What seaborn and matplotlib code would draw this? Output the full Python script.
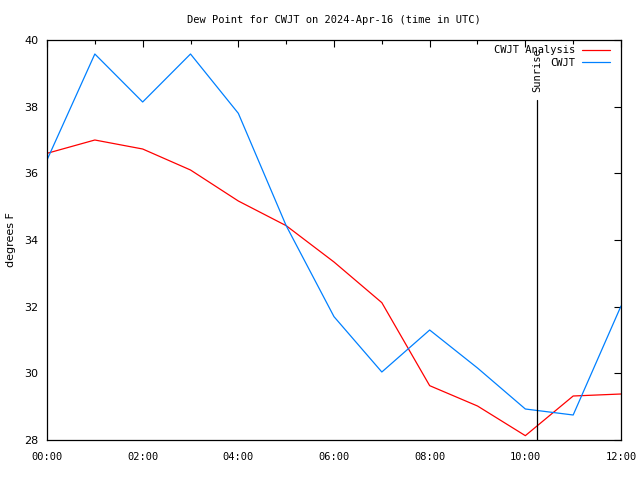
import pandas as pd
import seaborn as sns
import matplotlib.pyplot as plt

hours = [0, 1, 2, 3, 4, 5, 6, 7, 8, 9, 10, 11, 12]
analysis = [36.6, 37.0, 36.73, 36.1, 35.17, 34.43, 33.34, 32.12, 29.63, 29.02, 28.13, 29.32, 29.38]
obs = [36.4, 39.58, 38.14, 39.58, 37.8, 34.43, 31.7, 30.04, 31.3, 30.16, 28.93, 28.75, 32.02]
sunrise = 10.25
xticks = [0, 2, 4, 6, 8, 10, 12]
xlabels = ["00:00", "02:00", "04:00", "06:00", "08:00", "10:00", "12:00"]

df = pd.DataFrame({
    "hour": hours * 2,
    "dewpoint": analysis + obs,
    "series": ["CWJT Analysis"] * len(hours) + ["CWJT"] * len(hours),
})

sns.set_style("white")
plt.rcParams["font.family"] = ["DejaVu Sans Mono"]
plt.rcParams["font.size"] = 7.5
plt.rcParams["text.color"] = "black"
plt.rcParams["axes.labelcolor"] = "black"
plt.rcParams["xtick.color"] = "black"
plt.rcParams["ytick.color"] = "black"

fig = plt.figure(figsize=(6.4, 4.8), dpi=100)
ax = fig.add_axes([47 / 640, 40 / 480, 574 / 640, 400 / 480])

sns.lineplot(data=df, x="hour", y="dewpoint", hue="series",
             palette={"CWJT Analysis": "#ff0000", "CWJT": "#0080ff"},
             linewidth=0.9, ax=ax)

# sunrise marker
ax.plot([sunrise, sunrise], [28, 38.2], color="black", linewidth=0.9)
ax.text(sunrise, 38.45, "Sunrise", rotation=90, ha="center", va="bottom", fontsize=7.5)

ax.set_xlim(0, 12)
ax.set_ylim(28, 40)
ax.set_xticks(xticks)
ax.set_xticklabels(xlabels, fontsize=7.5)
ax.set_xticks(range(0, 13), minor=True)
ax.set_yticks(range(28, 41, 2))
for lab in ax.get_yticklabels():
    lab.set_family("DejaVu Sans")
    lab.set_fontsize(8)
ax.tick_params(which="both", direction="in", top=True, right=True, length=5, width=0.8)
ax.tick_params(which="minor", length=3)
ax.tick_params(axis="x", pad=9)
ax.tick_params(axis="y", pad=6)
for s in ax.spines.values():
    s.set_color("black")
    s.set_linewidth(0.9)

ax.set_xlabel("")
ax.set_ylabel("degrees F", family="DejaVu Sans", fontsize=8, labelpad=6)
ax.set_title("Dew Point for CWJT on 2024-Apr-16 (time in UTC)", fontsize=7.5, pad=12)

leg = ax.legend(loc="upper right", bbox_to_anchor=(0.981, 0.987), frameon=False,
                markerfirst=False, handlelength=2.7, handletextpad=0.65,
                borderaxespad=0, borderpad=0, labelspacing=0.25, fontsize=7.5)
for t in leg.get_texts():
    t.set_ha("right")

fig.savefig("out.png", dpi=100)
